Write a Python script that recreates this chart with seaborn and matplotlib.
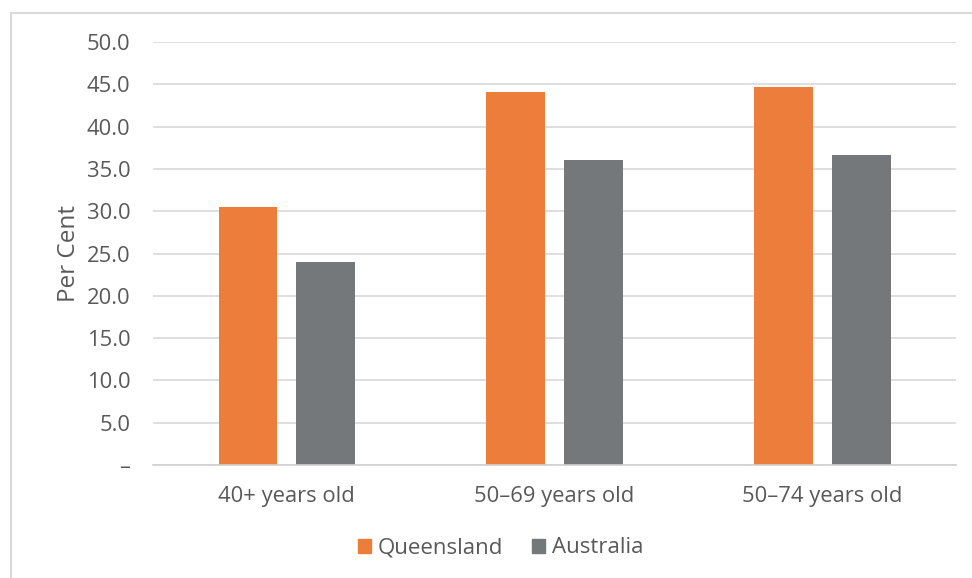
import pandas as pd
import matplotlib
matplotlib.use('Agg')
import matplotlib.pyplot as plt
from matplotlib.lines import Line2D
from matplotlib.ticker import FuncFormatter, MultipleLocator
import seaborn as sns

# 데이터
age_groups = ['40+ years old', '50–69 years old', '50–74 years old']
queensland = [30.5, 44.1, 44.7]
australia = [24.0, 36.0, 36.6]

df = pd.DataFrame({
    'group': age_groups * 2,
    'region': ['Queensland'] * 3 + ['Australia'] * 3,
    'value': queensland + australia,
})

sns.set_theme(style='white')
plt.rcParams['font.family'] = ['Open Sans', 'DejaVu Sans']
text_color = '#595959'

fig = plt.figure(figsize=(9.72, 5.78), dpi=100)
ax = fig.add_axes([0.157, 0.1955, 0.827, 0.7318])

sns.barplot(data=df, x='group', y='value', hue='region', order=age_groups,
            palette={'Queensland': '#ED7D3A', 'Australia': '#75787B'},
            saturation=1, width=0.576, gap=0.236, linewidth=0,
            ax=ax, legend=False)

ax.set_ylim(0, 50)
ax.set_xlim(-0.5, 2.5)
ax.yaxis.set_major_locator(MultipleLocator(5))
ax.yaxis.set_major_formatter(FuncFormatter(lambda v, p: '–' if v == 0 else f'{v:.1f}'))
ax.grid(axis='y', color='#D9D9D9', linewidth=1.2)
ax.set_axisbelow(True)
for s in ['top', 'right', 'left']:
    ax.spines[s].set_visible(False)
ax.spines['bottom'].set_color('#D0D0D0')
ax.spines['bottom'].set_linewidth(1.2)
ax.tick_params(axis='both', length=0, labelsize=15.8, colors=text_color)
ax.tick_params(axis='y', pad=16)
ax.tick_params(axis='x', pad=15)
ax.set_xlabel('')
ax.set_ylabel('Per Cent', fontsize=17.5, color=text_color, labelpad=4)

# 범례
handles = [plt.Rectangle((0, 0), 1, 1, color='#ED7D3A'),
           plt.Rectangle((0, 0), 1, 1, color='#75787B')]
fig.legend(handles, ['Queensland', 'Australia'], loc='center',
           bbox_to_anchor=(0.515, 0.052), ncol=2, frameon=False,
           fontsize=16, labelcolor=text_color, handlelength=0.6,
           handleheight=0.6, handletextpad=0.3, columnspacing=1.3)

# 바깥 테두리
fig.add_artist(Line2D([11 / 972, 1.0], [1 - 13 / 578, 1 - 13 / 578],
                      color='#D9D9D9', linewidth=1.5))
fig.add_artist(Line2D([11 / 972, 11 / 972], [0, 1 - 13 / 578],
                      color='#D9D9D9', linewidth=1.5))

fig.savefig('out.png', dpi=100)
